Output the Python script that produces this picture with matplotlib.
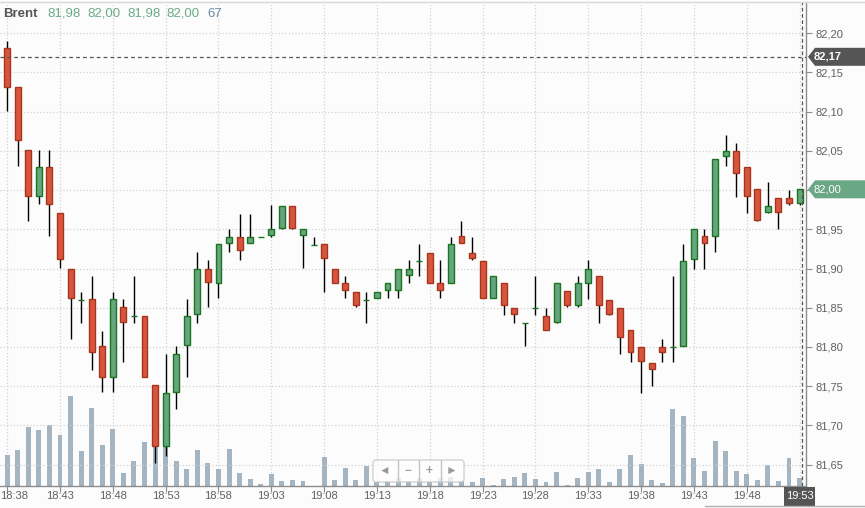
import matplotlib

matplotlib.use("Agg")
import matplotlib.pyplot as plt  # noqa: E402
import matplotlib.transforms as mtransforms  # noqa: E402
from matplotlib.patches import FancyBboxPatch, Polygon, Rectangle  # noqa: E402

W, H = 865, 508

symbol = "Brent"
time_labels = [
    "18:38", "18:43", "18:48", "18:53", "18:58", "19:03", "19:08", "19:13",
    "19:18", "19:23", "19:28", "19:33", "19:38", "19:43", "19:48", "19:53",
]
price_ticks = [81.65, 81.70, 81.75, 81.80, 81.85, 81.90, 81.95, 82.00, 82.05, 82.10, 82.15, 82.20]
ref_level = 82.17

# one candle per minute, 18:38 .. 19:53
opens = [
    82.181, 82.131, 82.051, 81.992, 82.030, 81.971, 81.900, 81.860, 81.861, 81.801,
    81.762, 81.851, 81.840, 81.840, 81.751, 81.673, 81.742, 81.802, 81.842, 81.900,
    81.882, 81.933, 81.940, 81.933, 81.940, 81.943, 81.952, 81.980, 81.943, 81.930,
    81.931, 81.900, 81.881, 81.870, 81.860, 81.863, 81.873, 81.872, 81.892, 81.910,
    81.920, 81.881, 81.882, 81.941, 81.920, 81.910, 81.863, 81.881, 81.850, 81.831,
    81.850, 81.840, 81.832, 81.871, 81.853, 81.882, 81.891, 81.860, 81.850, 81.821,
    81.800, 81.780, 81.800, 81.800, 81.801, 81.912, 81.941, 81.942, 82.043, 82.050,
    82.030, 82.001, 81.972, 81.990, 81.990, 81.983,
]
highs = [
    82.190, 82.131, 82.051, 82.051, 82.051, 81.971, 81.900, 81.870, 81.891, 81.820,
    81.870, 81.861, 81.891, 81.840, 81.751, 81.791, 81.801, 81.861, 81.921, 81.911,
    81.931, 81.950, 81.970, 81.970, 81.940, 81.981, 81.980, 81.980, 81.951, 81.940,
    81.931, 81.900, 81.890, 81.870, 81.870, 81.870, 81.881, 81.900, 81.911, 81.931,
    81.920, 81.911, 81.940, 81.960, 81.940, 81.910, 81.891, 81.881, 81.850, 81.831,
    81.890, 81.850, 81.881, 81.871, 81.890, 81.911, 81.891, 81.860, 81.850, 81.821,
    81.800, 81.780, 81.810, 81.890, 81.931, 81.951, 81.950, 82.040, 82.070, 82.060,
    82.030, 82.001, 82.010, 81.990, 82.000, 82.001,
]
lows = [
    82.101, 82.031, 81.961, 81.982, 81.941, 81.901, 81.810, 81.831, 81.771, 81.742,
    81.742, 81.781, 81.831, 81.761, 81.652, 81.661, 81.721, 81.762, 81.831, 81.851,
    81.862, 81.921, 81.911, 81.932, 81.940, 81.940, 81.951, 81.951, 81.901, 81.930,
    81.870, 81.881, 81.862, 81.851, 81.830, 81.862, 81.862, 81.862, 81.881, 81.890,
    81.881, 81.862, 81.882, 81.932, 81.911, 81.862, 81.862, 81.841, 81.830, 81.801,
    81.841, 81.821, 81.831, 81.851, 81.851, 81.861, 81.831, 81.841, 81.791, 81.781,
    81.741, 81.750, 81.781, 81.781, 81.801, 81.900, 81.900, 81.921, 82.031, 81.991,
    81.971, 81.961, 81.971, 81.950, 81.981, 81.981,
]
closes = [
    82.132, 82.064, 81.992, 82.030, 81.982, 81.912, 81.862, 81.860, 81.793, 81.762,
    81.861, 81.832, 81.840, 81.762, 81.673, 81.741, 81.791, 81.840, 81.900, 81.883,
    81.931, 81.940, 81.923, 81.940, 81.940, 81.951, 81.980, 81.952, 81.951, 81.930,
    81.913, 81.882, 81.873, 81.853, 81.860, 81.870, 81.881, 81.900, 81.900, 81.910,
    81.882, 81.873, 81.931, 81.933, 81.913, 81.862, 81.891, 81.853, 81.842, 81.831,
    81.850, 81.822, 81.881, 81.853, 81.881, 81.900, 81.853, 81.842, 81.812, 81.793,
    81.782, 81.772, 81.793, 81.800, 81.910, 81.951, 81.933, 82.040, 82.050, 82.022,
    81.992, 81.962, 81.980, 81.972, 81.983, 82.001,
]
volumes = [
    260, 302, 496, 470, 512, 428, 756, 294, 655, 344,
    479, 109, 210, 370, 378, 353, 210, 143, 302, 193,
    143, 311, 109, 59, 17, 101, 42, 50, 42, 0,
    244, 50, 151, 50, 168, 34, 42, 67, 42, 67,
    34, 67, 76, 42, 34, 67, 8, 59, 76, 109,
    59, 34, 118, 8, 67, 118, 143, 34, 143, 260,
    185, 50, 25, 647, 588, 235, 126, 378, 294, 126,
    101, 50, 176, 42, 235, 67,
]


def fmt(v):
    return f"{v:.2f}".replace(".", ",")


plt.rcParams["font.family"] = ["Liberation Sans", "DejaVu Sans"]

bg = "#fcfcfc"
up_fill, up_edge = "#67a57e", "#17761f"
down_fill, down_edge = "#d9543f", "#a6361b"
grid_color = "#d2d2d2"
axis_color = "#8c8c8c"
label_color = "#606060"

fig = plt.figure(figsize=(W / 100, H / 100), dpi=100)
fig.patch.set_facecolor(bg)
pix = mtransforms.Affine2D().scale(1 / W, -1 / H).translate(0, 1) + fig.transFigure

rect = [0, (H - 486) / H, 806 / W, (486 - 2) / H]
axv = fig.add_axes(rect)
ax = fig.add_axes(rect)
ax.patch.set_visible(False)

n = len(opens)
xs = list(range(n))
tick_pos = list(range(0, n, 5))
xlim = (-0.68, 75.61)

# volume panel underneath
axv.set_facecolor(bg)
axv.bar(xs, volumes, width=0.47, color="#a4b4c0", zorder=2)
axv.set_xlim(*xlim)
axv.set_ylim(0, 4066)
axv.set_xticks(tick_pos)
axv.grid(axis="x", linestyle=":", color=grid_color, linewidth=0.9, zorder=0)
axv.tick_params(bottom=False, labelbottom=False, left=False, labelleft=False)
for s in axv.spines.values():
    s.set_visible(False)

# candles
ups = [c >= o for o, c in zip(opens, closes)]
ax.vlines(xs, lows, highs, color="black", linewidth=1.0, zorder=3)
bottoms = [min(o, c) for o, c in zip(opens, closes)]
heights = [abs(c - o) for o, c in zip(opens, closes)]
ax.bar(
    xs,
    heights,
    bottom=bottoms,
    width=0.56,
    color=[up_fill if u else down_fill for u in ups],
    edgecolor=[up_edge if u else down_edge for u in ups],
    linewidth=1.0,
    zorder=4,
)

ax.set_xlim(*xlim)
ax.set_ylim(81.6226, 82.2399)
ax.set_axisbelow(True)
ax.grid(axis="y", linestyle=":", color=grid_color, linewidth=0.9)

# the last-price tag sits over its own tick label, so leave that one blank
last_txt = fmt(closes[-1])
ax.yaxis.tick_right()
ax.set_yticks(price_ticks)
ax.set_yticklabels(["" if fmt(v) == last_txt else fmt(v) for v in price_ticks])
ax.tick_params(axis="y", length=4.5, width=0.8, color=axis_color,
               labelcolor=label_color, labelsize=8, pad=2)
ax.set_xticks(tick_pos)
ax.set_xticklabels([])
ax.tick_params(axis="x", length=4, width=0.8, color=axis_color)

for side in ("left", "top"):
    ax.spines[side].set_visible(False)
for side in ("right", "bottom"):
    ax.spines[side].set_color(axis_color)
    ax.spines[side].set_linewidth(1.0)

# time labels along the bottom
lab_tr = mtransforms.blended_transform_factory(ax.transData, fig.transFigure)
lab_y = 1 - 496 / H
for i, (pos, lab) in enumerate(zip(tick_pos, time_labels)):
    if i == 0:
        ax.text(xlim[0], lab_y, lab, transform=lab_tr, ha="left", va="center",
                fontsize=8, color=label_color, clip_on=False)
    elif i == len(time_labels) - 1:
        ax.add_patch(Rectangle((pos - 1.47, 1 - 506 / H), 2.94, 19 / H,
                               transform=lab_tr, facecolor="#555555",
                               edgecolor="none", clip_on=False, zorder=6))
        ax.text(pos, lab_y, lab, transform=lab_tr, ha="center", va="center",
                fontsize=8, color="white", clip_on=False, zorder=7)
    else:
        ax.text(pos, lab_y, lab, transform=lab_tr, ha="center", va="center",
                fontsize=8, color=label_color, clip_on=False)

# crosshair and reference line
ax.axvline(75.2, color="#555555", linestyle=(0, (3, 2)), linewidth=0.9, zorder=5)
ax.axhline(ref_level, color="#555555", linestyle=(0, (3, 2.5)), linewidth=0.9, zorder=5)

# price tags on the right
tag_tr = mtransforms.blended_transform_factory(fig.transFigure, ax.transData)
half = 9 * (82.2399 - 81.6226) / 484


def price_tag(value, color, weight):
    pts = [
        (808 / W, value),
        (815 / W, value + half),
        (1.0, value + half),
        (1.0, value - half),
        (815 / W, value - half),
    ]
    ax.add_patch(Polygon(pts, closed=True, transform=tag_tr, facecolor=color,
                         edgecolor="none", clip_on=False, zorder=6))
    ax.text(814 / W, value, fmt(value), transform=tag_tr, ha="left", va="center",
            fontsize=8, color="white", fontweight=weight, clip_on=False, zorder=7)


price_tag(ref_level, "#555555", "bold")
price_tag(closes[-1], "#6aa784", "normal")

# header
hy = 1 - 14 / H
fig.text(3 / W, hy, symbol, fontsize=9.5, fontweight="bold", color="#555555", va="center")
header_vals = [opens[-1], highs[-1], lows[-1], closes[-1]]
for xp, v in zip([47, 87, 127, 166], header_vals):
    fig.text(xp / W, hy, fmt(v), fontsize=9.5, color="#6aaa88", va="center")
fig.text(207 / W, hy, str(volumes[-1]), fontsize=9.5, color="#6a8aa8", va="center")

# top border and navigator bits
fig.add_artist(plt.Line2D([0, W], [1.5, 1.5], transform=pix, color="#d8d8d8", linewidth=1))
fig.add_artist(plt.Line2D([705, W], [506, 506], transform=pix, color="#b0b0b0", linewidth=1))
nav = FancyBboxPatch((373, 460), 91, 22, boxstyle="round,pad=0,rounding_size=3",
                     transform=pix, facecolor="white", alpha=0.75,
                     edgecolor="#c4c4c4", linewidth=1, zorder=8)
fig.add_artist(nav)
for xd in (397.5, 418.5, 440.5):
    fig.add_artist(plt.Line2D([xd, xd], [460, 482], transform=pix, color="#c4c4c4",
                              linewidth=1, zorder=9))
for xc, sym in zip([385, 408, 429, 452], ["◄", "−", "+", "►"]):
    fig.text(xc / W, 1 - 471 / H, sym, ha="center", va="center", fontsize=8.5,
             color="#9a9a9a", fontweight="bold", zorder=10)

fig.savefig("out.png", dpi=100, facecolor=bg)
